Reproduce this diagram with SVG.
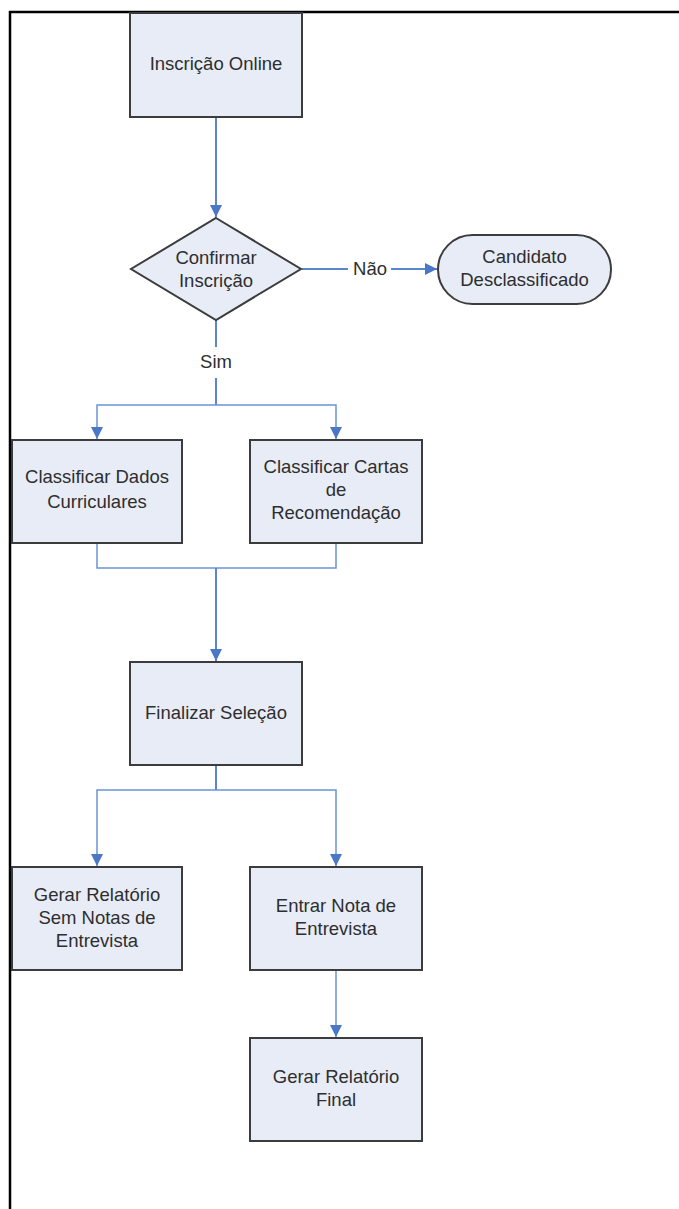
<svg xmlns="http://www.w3.org/2000/svg" width="679" height="1209" viewBox="0 0 679 1209">
  <style>
    .box { fill: #e7ecf7; stroke: #3c3c3c; stroke-width: 2; }
    .lbl { font-family: "Liberation Sans", Arial, sans-serif; font-size: 18.5px; fill: #2e2e2e; text-anchor: middle; }
    .edge { fill: none; stroke: #5b86cc; stroke-width: 2; }
    .thin { fill: none; stroke: #6b94d6; stroke-width: 1.5; }
    .frame { stroke: #000; stroke-width: 2.5; fill: none; }
  </style>
  <defs>
    <marker id="arrow" viewBox="0 0 12 12" refX="12" refY="6" markerWidth="12" markerHeight="12" markerUnits="userSpaceOnUse" orient="auto">
      <path d="M0,0 L12,6 L0,12 Z" fill="#4a78c6"/>
    </marker>
  </defs>

  <rect width="679" height="1209" fill="#ffffff"/>
  <!-- page frame: top and left edges -->
  <path class="frame" d="M10,1209 V12 H679"/>

  <g id="connectors">
    <path class="edge" d="M216,117 V217" marker-end="url(#arrow)"/>
    <path class="edge" d="M302,269 H348 M391,269 H437" marker-end="url(#arrow)"/>
    <path class="edge" d="M216,320 V347 M216,378 V405"/>
    <path class="thin" d="M216,405 H97 V439" marker-end="url(#arrow)"/>
    <path class="thin" d="M216,405 H336 V439" marker-end="url(#arrow)"/>
    <path class="thin" d="M97,543 V568 H336 V543"/>
    <path class="edge" d="M216,568 V661" marker-end="url(#arrow)"/>
    <path class="edge" d="M216,765 V790"/>
    <path class="thin" d="M216,790 H97 V866" marker-end="url(#arrow)"/>
    <path class="thin" d="M216,790 H336 V866" marker-end="url(#arrow)"/>
    <path class="thin" d="M336,970 V1037" marker-end="url(#arrow)"/>
    <text class="lbl" x="370" y="275">Não</text>
    <text class="lbl" x="216" y="368">Sim</text>
  </g>

  <g id="inscricao-online">
    <rect class="box" x="130" y="13" width="172" height="104"/>
    <text class="lbl" x="216" y="70">Inscrição Online</text>
  </g>

  <g id="confirmar-inscricao">
    <path class="box" d="M216,218 L301,269 L216,320 L131,269 Z"/>
    <text class="lbl" x="216" y="264">Confirmar</text>
    <text class="lbl" x="216" y="287">Inscrição</text>
  </g>

  <g id="candidato-desclassificado">
    <rect class="box" x="438" y="235" width="173" height="69" rx="34.5" ry="34.5"/>
    <text class="lbl" x="524.5" y="263">Candidato</text>
    <text class="lbl" x="524.5" y="286">Desclassificado</text>
  </g>

  <g id="classificar-dados">
    <rect class="box" x="12" y="440" width="170" height="103"/>
    <text class="lbl" x="97" y="483">Classificar Dados</text>
    <text class="lbl" x="97" y="508">Curriculares</text>
  </g>

  <g id="classificar-cartas">
    <rect class="box" x="250" y="440" width="172" height="103"/>
    <text class="lbl" x="336" y="473">Classificar Cartas</text>
    <text class="lbl" x="336" y="496">de</text>
    <text class="lbl" x="336" y="519">Recomendação</text>
  </g>

  <g id="finalizar-selecao">
    <rect class="box" x="130" y="662" width="172" height="103"/>
    <text class="lbl" x="216" y="719">Finalizar Seleção</text>
  </g>

  <g id="gerar-relatorio-sem-notas">
    <rect class="box" x="12" y="867" width="170" height="103"/>
    <text class="lbl" x="97" y="901">Gerar Relatório</text>
    <text class="lbl" x="97" y="924">Sem Notas de</text>
    <text class="lbl" x="97" y="947">Entrevista</text>
  </g>

  <g id="entrar-nota">
    <rect class="box" x="250" y="867" width="172" height="103"/>
    <text class="lbl" x="336" y="912">Entrar Nota de</text>
    <text class="lbl" x="336" y="935">Entrevista</text>
  </g>

  <g id="gerar-relatorio-final">
    <rect class="box" x="250" y="1038" width="172" height="103"/>
    <text class="lbl" x="336" y="1083">Gerar Relatório</text>
    <text class="lbl" x="336" y="1106">Final</text>
  </g>
</svg>
